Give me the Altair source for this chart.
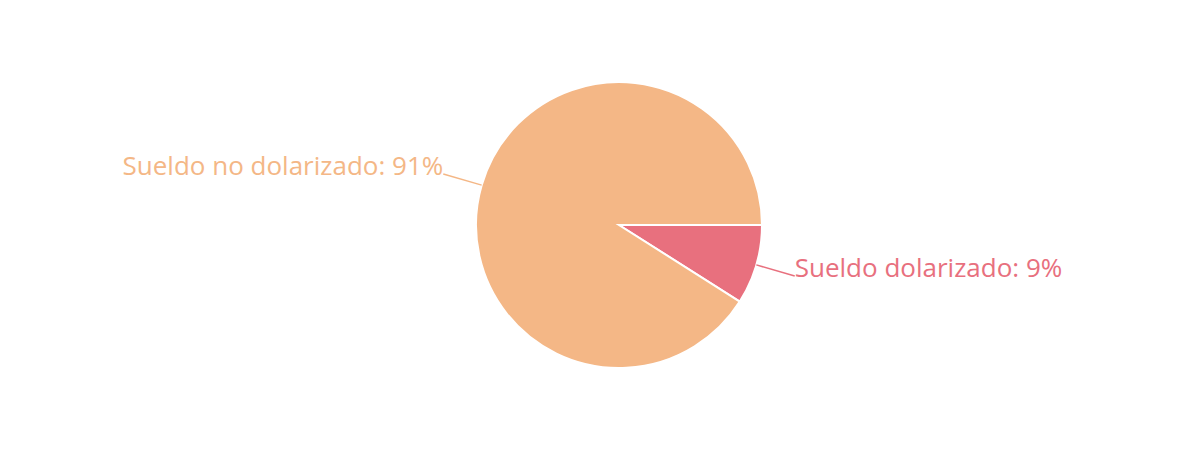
import math
import altair as alt
import pandas as pd

categories = ["Sueldo dolarizado", "Sueldo no dolarizado"]
values = [9, 91]
order = [0, 1]
colors = ["#E8707E", "#F4B786"]

df = pd.DataFrame({"cat": categories, "val": values, "ord": order})

PAD = 4
CX, CY, R, LEAD = 611 - PAD, 217 - PAD, 143, 40
FONT = "Open Sans"
FS = 26

color = alt.Color("cat:N", scale=alt.Scale(domain=categories, range=colors), legend=None)

arc = alt.Chart(df).mark_arc(outerRadius=R, stroke="white", strokeWidth=2).encode(
    theta=alt.Theta("val:Q", stack=True,
                    scale=alt.Scale(domain=[0, 100], range=[math.pi / 2, math.pi / 2 + 2 * math.pi])),
    color=color,
    order=alt.Order("ord:Q"),
    x=alt.value(CX),
    y=alt.value(CY),
)

base = (
    alt.Chart(df)
    .transform_joinaggregate(total="sum(val)")
    .transform_window(cum="sum(val)", sort=[alt.SortField("ord")], frame=[None, 0])
    .transform_calculate(
        mid=f"PI/2 + 2*PI*(datum.cum - datum.val/2)/datum.total",
        x0=f"{CX} + {R}*sin(datum.mid)",
        y0=f"{CY} - {R}*cos(datum.mid)",
        x1=f"{CX} + {R + LEAD}*sin(datum.mid)",
        y1=f"{CY} - {R + LEAD}*cos(datum.mid)",
        label="datum.cat + ': ' + datum.val + '%'",
        side="sin(datum.mid) >= 0 ? 'r' : 'l'",
    )
)

leaders = base.mark_rule(strokeWidth=1.5).encode(
    x=alt.X("x0:Q", scale=None, axis=None),
    y=alt.Y("y0:Q", scale=None, axis=None),
    x2="x1:Q",
    y2="y1:Q",
    color=color,
)

text_r = base.transform_filter("datum.side == 'r'").mark_text(
    align="left", baseline="alphabetic", font=FONT, fontSize=FS, dy=1
).encode(
    x=alt.X("x1:Q", scale=None, axis=None),
    y=alt.Y("y1:Q", scale=None, axis=None),
    text="label:N",
    color=color,
)

text_l = base.transform_filter("datum.side == 'l'").mark_text(
    align="right", baseline="alphabetic", font=FONT, fontSize=FS, dy=1
).encode(
    x=alt.X("x1:Q", scale=None, axis=None),
    y=alt.Y("y1:Q", scale=None, axis=None),
    text="label:N",
    color=color,
)

chart = (
    alt.layer(arc, leaders, text_r, text_l)
    .properties(width=1184 - 2 * PAD, height=436 - 2 * PAD,
                autosize=alt.AutoSizeParams(type="none"), padding=PAD,
                view=alt.ViewBackground(strokeWidth=0, strokeOpacity=0))
    .configure_view(strokeOpacity=0, strokeWidth=0)
    .configure(background="white")
)

chart.save("out.html", embed_options={"renderer": "svg", "actions": False})
